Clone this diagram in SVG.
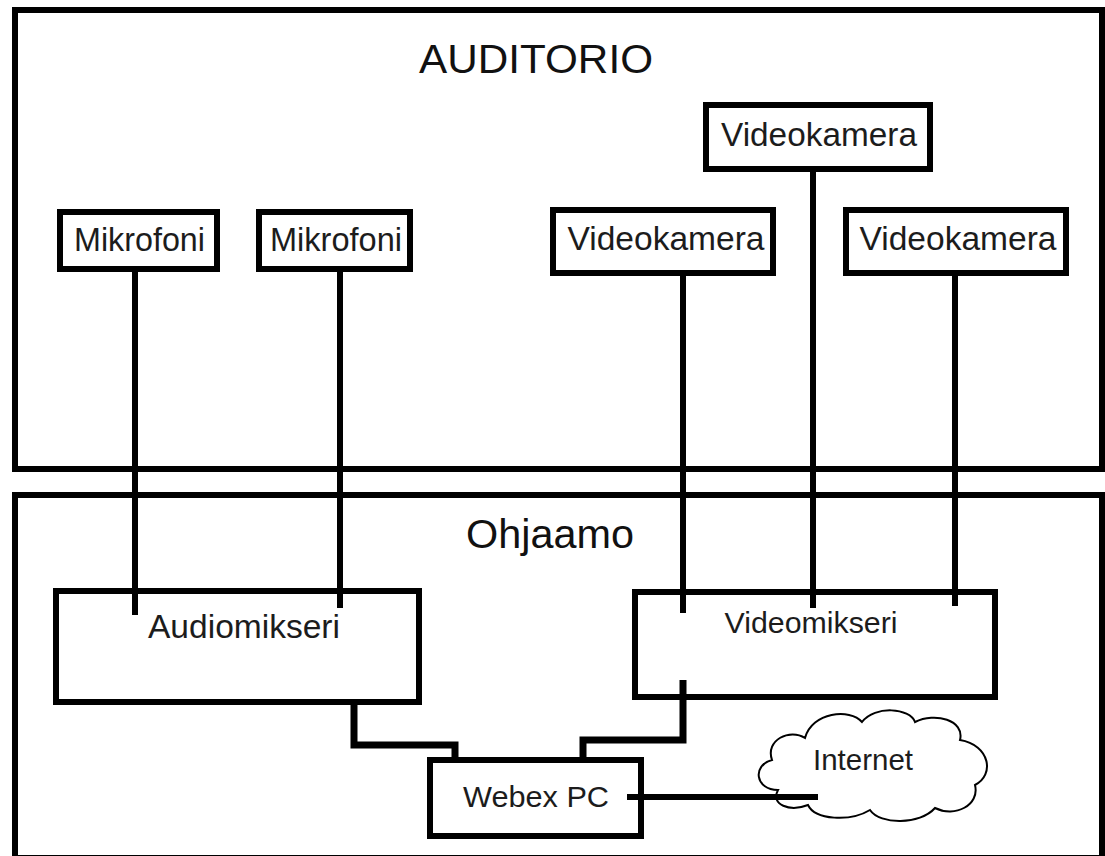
<svg xmlns="http://www.w3.org/2000/svg" width="1105" height="856" viewBox="0 0 1105 856">
<style>
.box{fill:none;stroke:#000;stroke-width:6}
.wire{fill:none;stroke:#000;stroke-width:6}
.wire2{fill:none;stroke:#000;stroke-width:7}
text{font-family:"Liberation Sans",Arial,sans-serif;fill:#1c1c1c;text-anchor:middle}
.t{font-size:33px}
.title{font-size:41px;fill:#111}
</style>
<rect width="1105" height="856" fill="#fff"/>
<g id="auditorio">
<rect class="box" x="15" y="10" width="1087" height="459"/>
<text class="title" x="536" y="73" textLength="234" lengthAdjust="spacingAndGlyphs">AUDITORIO</text>
</g>
<g id="ohjaamo">
<rect class="box" x="15" y="495" width="1087" height="363"/>
<text class="title" x="550" y="548" textLength="168" lengthAdjust="spacingAndGlyphs">Ohjaamo</text>
</g>
<g id="connectors">
<line class="wire" x1="135" y1="272" x2="135" y2="615"/>
<line class="wire" x1="340" y1="272" x2="340" y2="608"/>
<line class="wire" x1="683" y1="276" x2="683" y2="613"/>
<line class="wire" x1="813" y1="172" x2="813" y2="608"/>
<line class="wire" x1="955" y1="276" x2="955" y2="606"/>
<path class="wire2" d="M354 703 V745 H455 V760"/>
<path class="wire2" d="M683 680 V740 H583 V760"/>
</g>
<g id="mikrofoni1">
<rect class="box" x="60" y="212" width="157" height="57" fill="#fff"/>
<text class="t" x="139.5" y="251" textLength="131" lengthAdjust="spacingAndGlyphs">Mikrofoni</text>
</g>
<g id="mikrofoni2">
<rect class="box" x="259" y="212" width="151" height="57"/>
<text class="t" x="336" y="251" textLength="132" lengthAdjust="spacingAndGlyphs">Mikrofoni</text>
</g>
<g id="videokamera-left">
<rect class="box" x="553" y="210" width="220" height="63"/>
<text class="t" x="666" y="250" textLength="197" lengthAdjust="spacingAndGlyphs">Videokamera</text>
</g>
<g id="videokamera-top">
<rect class="box" x="706" y="105" width="224" height="64"/>
<text class="t" x="819" y="146" textLength="196" lengthAdjust="spacingAndGlyphs">Videokamera</text>
</g>
<g id="videokamera-right">
<rect class="box" x="846" y="210" width="220" height="63"/>
<text class="t" x="958" y="250" textLength="197" lengthAdjust="spacingAndGlyphs">Videokamera</text>
</g>
<g id="audiomikseri">
<rect class="box" x="56" y="591" width="363" height="111"/>
<text class="t" x="244" y="638" textLength="192" lengthAdjust="spacingAndGlyphs">Audiomikseri</text>
</g>
<g id="videomikseri">
<rect class="box" x="635" y="592" width="360" height="105"/>
<text x="811" y="633" font-size="30" textLength="173" lengthAdjust="spacingAndGlyphs">Videomikseri</text>
</g>
<g id="webex-pc">
<rect class="box" x="430" y="760" width="211" height="76"/>
<text x="536" y="807" font-size="30" textLength="146" lengthAdjust="spacingAndGlyphs">Webex PC</text>
</g>
<g id="internet">
<path d="M778 790 C755 790 752 765 772 760 C765 740 790 728 805 738 C812 712 850 708 862 722 C875 705 910 708 915 722 C935 712 965 720 960 740 C990 745 995 775 975 785 C980 805 955 818 935 808 C920 825 880 825 870 810 C850 822 815 820 808 805 C790 812 770 805 778 790 Z" fill="#fff" stroke="#000" stroke-width="2"/>
<text x="863" y="770" font-size="30" textLength="100" lengthAdjust="spacingAndGlyphs">Internet</text>
</g>
<g id="connectors-internet">
<line class="wire" x1="627" y1="797" x2="818" y2="797"/>
</g>
</svg>
